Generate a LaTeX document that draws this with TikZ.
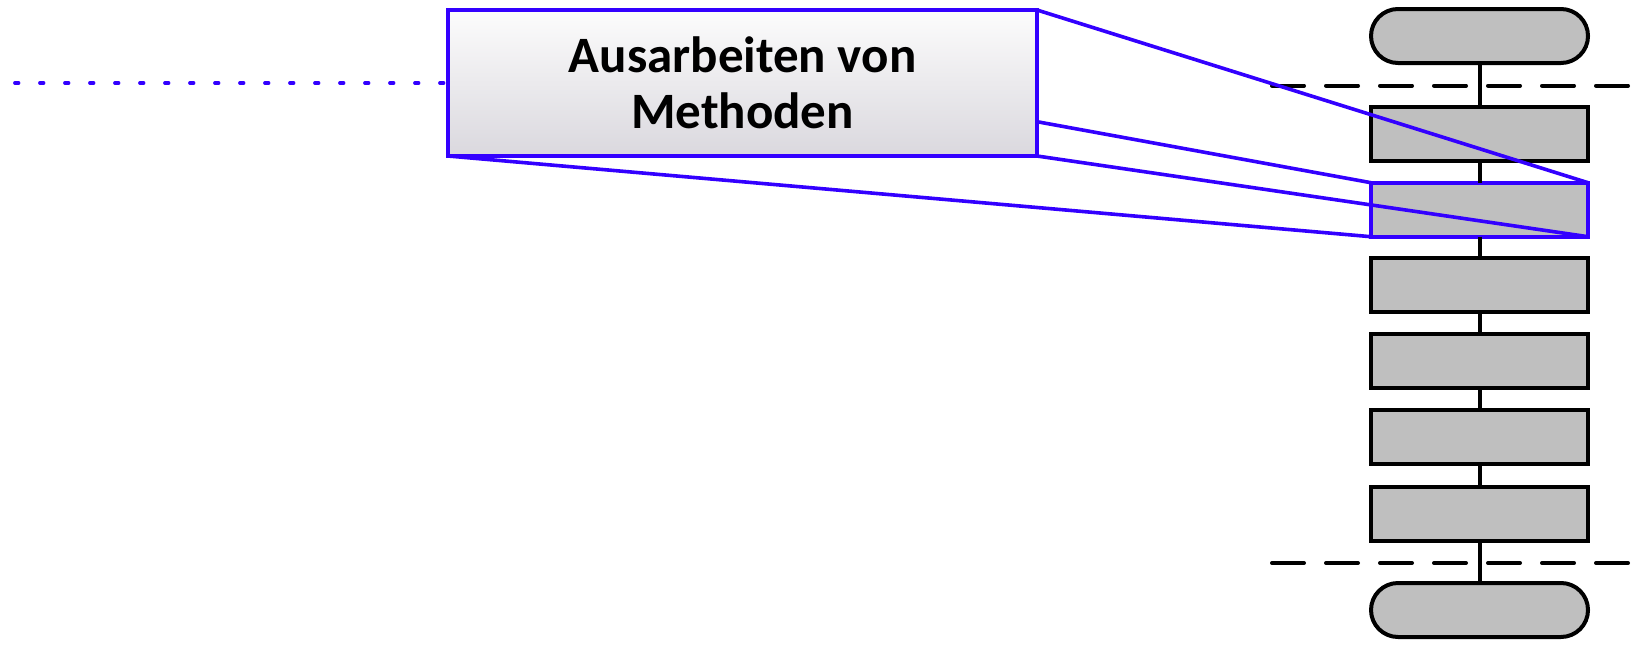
\documentclass[tikz,border=0pt]{standalone}
\usepackage{fontspec}
\setmainfont{Carlito}
\usetikzlibrary{calc}
\definecolor{linkblue}{RGB}{51,0,255}
\definecolor{boxgray}{RGB}{191,191,191}
\definecolor{gradtop}{RGB}{252,252,252}
\definecolor{gradbot}{RGB}{218,216,222}
\begin{document}
\begin{tikzpicture}[x=1pt,y=-1pt,
  every node/.style={inner sep=0pt,outer sep=0pt},
  stepbox/.style={draw=black,line width=4pt,fill=boxgray,minimum width=217pt,minimum height=54pt},
  termbox/.style={stepbox,rounded corners=27pt},
  selbox/.style={stepbox,draw=linkblue,line width=3.8pt},
  zoombox/.style={draw=linkblue,line width=3.8pt,top color=gradtop,bottom color=gradbot,minimum width=589pt,minimum height=146pt,align=center,font=\bfseries\fontsize{51}{56.5}\selectfont},
  link/.style={draw=linkblue,line width=3.6pt},
  flow/.style={draw=black,line width=4pt},
  phase/.style={draw=black,line width=4pt,line cap=round,dash pattern=on 32pt off 22pt},
  dotline/.style={draw=linkblue,line width=3.8pt,line cap=round,dash pattern=on 3.5pt off 21.5pt}
]
\useasboundingbox (0,0) rectangle (1641,645);

% right column
\node[termbox] (t1) at (1479.5,36) {};
\node[stepbox] (r1) at (1479.5,134) {};
\node[selbox]  (r2) at (1479.5,209.7) {};
\node[stepbox] (r3) at (1479.5,285) {};
\node[stepbox] (r4) at (1479.5,361) {};
\node[stepbox] (r5) at (1479.5,437) {};
\node[stepbox] (r6) at (1479.5,513.5) {};
\node[termbox] (t2) at (1479.5,610) {};

% phase separators
\coordinate (d1a) at (1272,85.7);
\coordinate (d1b) at (1632,85.7);
\coordinate (d2a) at (1272,563);
\coordinate (d2b) at (1632,563);
\draw[phase] (d1a) -- (d1b);
\draw[phase] (d2a) -- (d2b);

\draw[flow] (t1.south) -- (r1.north);
\draw[flow] (r1.south) -- (r2.north);
\draw[flow] (r2.south) -- (r3.north);
\draw[flow] (r3.south) -- (r4.north);
\draw[flow] (r4.south) -- (r5.north);
\draw[flow] (r5.south) -- (r6.north);
\draw[flow] (r6.south) -- (t2.north);

% zoom box
\node[zoombox] (zb) at (742.5,83) {Ausarbeiten von\\Methoden};
\coordinate (zbm) at ($(zb.south east)!0.235!(zb.north east)$);
\coordinate (dotstart) at (15,83);
\draw[dotline] (dotstart) -- (zb.west);

% zoom connectors
\draw[link] (zb.north east) -- (r2.north east);
\draw[link] (zbm) -- (r2.north west);
\draw[link] (zb.south east) -- (r2.south east);
\draw[link] (zb.south west) -- (r2.south west);
\end{tikzpicture}
\end{document}
